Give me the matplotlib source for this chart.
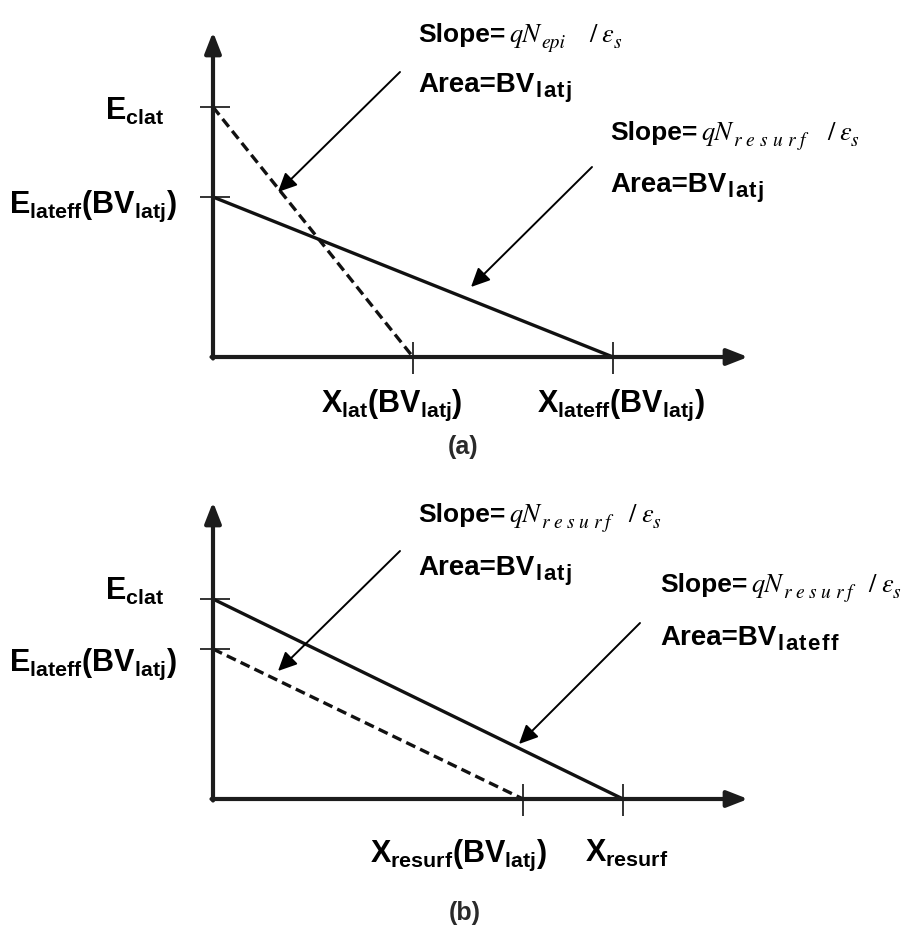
import matplotlib
matplotlib.use("Agg")
import matplotlib.pyplot as plt

# ---- schematic values (field vs. lateral distance), 1 unit = 100 px ----
# panel (a)
a_E = [2.5, 1.6]          # E_clat, E_lateff(BV_latj)
a_X = [2.0, 4.0]          # X_lat(BV_latj), X_lateff(BV_latj)
# panel (b)
b_E = [2.0, 1.5]          # E_clat, E_lateff(BV_latj)
b_X = [3.1, 4.1]          # X_resurf(BV_latj), X_resurf

a_ylabels = [r"E$_{clat}$", r"E$_{lateff}$(BV$_{latj}$)"]
a_xlabels = [r"X$_{lat}$(BV$_{latj}$)", r"X$_{lateff}$(BV$_{latj}$)"]
b_ylabels = [r"E$_{clat}$", r"E$_{lateff}$(BV$_{latj}$)"]
b_xlabels = [r"X$_{resurf}$(BV$_{latj}$)", r"X$_{resurf}$"]

plt.rcParams["font.family"] = ["Liberation Sans", "DejaVu Sans"]
plt.rcParams["mathtext.fontset"] = "custom"
for k in ("rm", "it", "bf", "sf"):
    plt.rcParams["mathtext." + k] = "Liberation Sans:bold"

W, H = 908, 929
fig = plt.figure(figsize=(W / 100, H / 100), dpi=100)
renderer = fig.canvas.get_renderer()

INK = "#111111"
AX_INK = "#1c1c1c"
LBL = 22

SERIF = ["STIXGeneral", "Liberation Serif"]
F_SLOPE = dict(fontsize=19, fontweight="bold")
F_AREA = dict(fontsize=20, fontweight="bold")
F_AREA_SUB = dict(fontsize=16, fontweight="bold")
F_IT = dict(family=SERIF, style="italic", fontsize=19)
F_IT_SUB = dict(family=SERIF, style="italic", fontsize=14)
F_UP = dict(family=SERIF, fontsize=19)


def make_axes(top_px, bot_px, origin_px):
    ax = fig.add_axes([0, 1 - bot_px / H, 1, (bot_px - top_px) / H])
    ax.set_xlim(-2.13, (W - 213) / 100)
    ax.set_ylim((origin_px - bot_px) / 100, (origin_px - top_px) / 100)
    ax.axis("off")
    return ax


def frame(ax, ytop, xright):
    style = "-|>,head_length=1.15,head_width=0.45"
    kw = dict(arrowstyle=style, lw=3, color=AX_INK, mutation_scale=11,
              shrinkA=0, shrinkB=0)
    ax.annotate("", xy=(0, ytop), xytext=(0, -0.015), arrowprops=kw)
    ax.annotate("", xy=(xright, 0), xytext=(-0.015, 0), arrowprops=kw)


def ticks(ax, E, X):
    for e in E:
        ax.plot([-0.13, 0.17], [e, e], color=INK, lw=1.2, solid_capstyle="butt")
    for x in X:
        ax.plot([x, x], [0.15, -0.17], color=INK, lw=1.2, solid_capstyle="butt")


def pointer(ax, start, tip):
    ax.annotate("", xy=tip, xytext=start,
                arrowprops=dict(arrowstyle="-|>,head_length=0.95,head_width=0.45",
                                lw=1.4, color="black", mutation_scale=12,
                                shrinkA=0, shrinkB=0))


def label(ax, x, y, s, ha):
    ax.text(x, y, s, fontsize=LBL, fontweight="bold", ha=ha, va="baseline")


def compose(ax, x, y, pieces):
    """Lay out text pieces left to right on one baseline.

    Each piece is (text, font kwargs, drop below baseline px,
    gap before px, letter spacing px or 0 for natural spacing).
    """
    px, py = ax.transData.transform((x, y))
    inv = ax.transData.inverted()
    for s, kw, drop, gap, track in pieces:
        px += gap
        chunks = list(s) if track else [s]
        for i, ch in enumerate(chunks):
            if i:
                px += track
            tx, ty = inv.transform((px, py - drop))
            t = ax.text(tx, ty, ch, ha="left", va="baseline", **kw)
            px = t.get_window_extent(renderer).x1


def slope(ax, x, y, sub, track, gap=20):
    compose(ax, x, y, [
        ("Slope=", F_SLOPE, 0, 0, 0),
        ("qN", F_IT, 0, 4, 0),
        (sub, F_IT_SUB, 6, 1, track),
        ("/", F_UP, 0, gap, 0),
        ("\u03b5", F_IT, 0, 5, 0),
        ("s", F_IT_SUB, 6, 0, 0),
    ])


def area(ax, x, y, sub):
    compose(ax, x, y, [
        ("Area=BV", F_AREA, 0, 0, 0),
        (sub, F_AREA_SUB, 5, 1, 1.5),
    ])


dash = (0, (3.0, 1.6))

# ---------------- panel (a) ----------------
axa = make_axes(0, 464, 358)
frame(axa, 3.25, 5.35)
axa.plot([0, a_X[0]], [a_E[0], 0], color=INK, lw=2.4, linestyle=dash)
axa.plot([0, a_X[1]], [a_E[1], 0], color=INK, lw=2.4)
ticks(axa, a_E, a_X)

label(axa, -0.49, 2.38, a_ylabels[0], "right")
label(axa, -0.36, 1.45, a_ylabels[1], "right")
label(axa, 1.79, -0.54, a_xlabels[0], "center")
label(axa, 4.08, -0.54, a_xlabels[1], "center")

slope(axa, 2.05, 3.16, "epi", 0, gap=24)
area(axa, 2.05, 2.66, "latj")
slope(axa, 3.97, 2.18, "resurf", 5, gap=22)
area(axa, 3.97, 1.66, "latj")
pointer(axa, (1.87, 2.85), (0.65, 1.65))
pointer(axa, (3.79, 1.90), (2.58, 0.70))

axa.text(2.50, -0.89, "(a)", fontsize=18, fontweight="bold", ha="center",
         va="center", color="#2a2a2a")

# ---------------- panel (b) ----------------
axb = make_axes(464, 929, 800)
frame(axb, 2.97, 5.35)
axb.plot([0, b_X[1]], [b_E[0], 0], color=INK, lw=2.4)
axb.plot([0, b_X[0]], [b_E[1], 0], color=INK, lw=2.4, linestyle=dash)
ticks(axb, b_E, b_X)

label(axb, -0.49, 2.00, b_ylabels[0], "right")
label(axb, -0.36, 1.29, b_ylabels[1], "right")
label(axb, 2.46, -0.62, b_xlabels[0], "center")
label(axb, 4.14, -0.62, b_xlabels[1], "center")

slope(axb, 2.05, 2.78, "resurf", 4.5, gap=18)
area(axb, 2.05, 2.25, "latj")
slope(axb, 4.47, 2.08, "resurf", 4.5, gap=16)
area(axb, 4.47, 1.55, "lateff")
pointer(axb, (1.87, 2.48), (0.65, 1.28))
pointer(axb, (4.27, 1.76), (3.06, 0.55))

axb.text(2.52, -1.13, "(b)", fontsize=18, fontweight="bold", ha="center",
         va="center", color="#2a2a2a")

fig.savefig("out.png", dpi=100, facecolor="white")
